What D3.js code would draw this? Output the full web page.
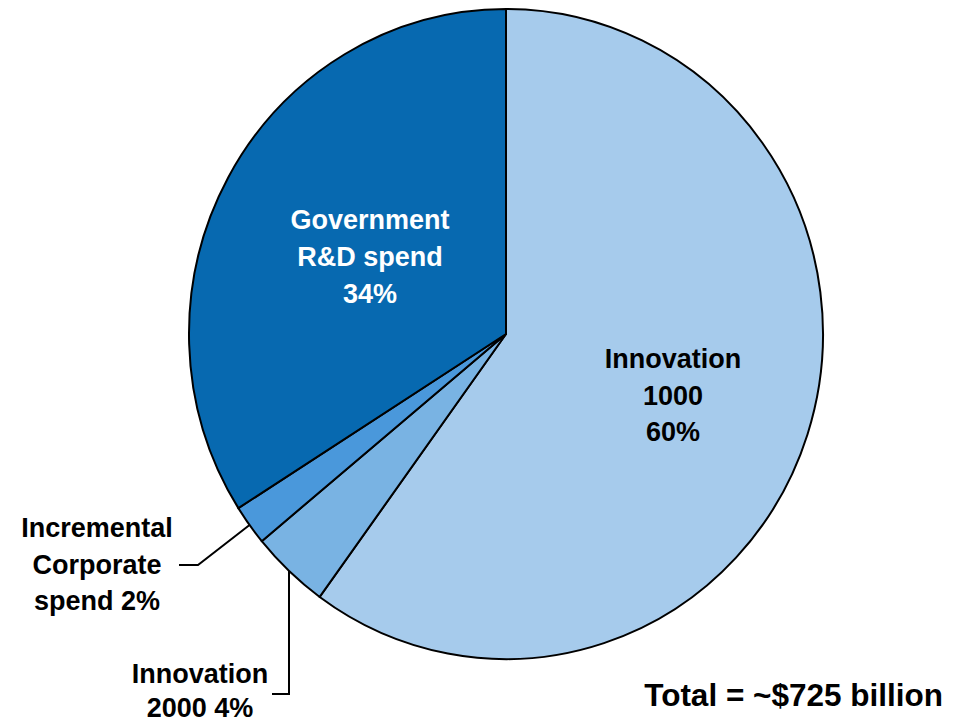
<!DOCTYPE html>
<html>
<head>
<meta charset="utf-8">
<script src="https://cdn.jsdelivr.net/npm/d3@7"></script>
<style>
  html, body { margin: 0; padding: 0; background: #fff; }
  svg { display: block; }
  text { font-family: "Liberation Sans", Arial, sans-serif; font-weight: bold; }
</style>
</head>
<body>
<svg id="chart" width="963" height="723"></svg>
<script>
// Slices in drawing order, clockwise from 12 o'clock
const categories = ["Innovation 1000", "Innovation 2000", "Incremental Corporate spend", "Government R&D spend"];
const shares = [60, 4, 2, 34];
const colors = ["#A6CBEC", "#79B3E3", "#4A98DB", "#0769B0"];
const labelLines = [
  ["Innovation", "1000", "60%"],
  ["Innovation", "2000 4%"],
  ["Incremental", "Corporate", "spend 2%"],
  ["Government", "R&D spend", "34%"]
];
const totalLabel = "Total = ~$725 billion";

const svg = d3.select("#chart");
const cx = 506, cy = 334, rx = 317, ry = 325;

const pie = d3.pie().sort(null).value(d => d)(shares);
const arc = d3.arc().innerRadius(0).outerRadius(rx);

// Slight vertical stretch of the pie
const pieG = svg.append("g")
  .attr("transform", `translate(${cx},${cy}) scale(1,${ry / rx})`);

pieG.selectAll("path")
  .data(pie)
  .join("path")
  .attr("d", arc)
  .attr("fill", (d, i) => colors[i])
  .attr("stroke", "#000")
  .attr("stroke-width", 2)
  .attr("stroke-linejoin", "round")
  .attr("vector-effect", "non-scaling-stroke");

// Point on the outer edge at the middle of a slice, in page coordinates
function edgePoint(d) {
  const a = (d.startAngle + d.endAngle) / 2;
  return [cx + rx * Math.sin(a), cy - ry * Math.cos(a)];
}

function drawLines(lines, x, y0, step, fill) {
  const t = svg.append("text")
    .attr("text-anchor", "middle")
    .attr("font-size", 27)
    .attr("fill", fill);
  lines.forEach((s, k) => {
    t.append("tspan").attr("x", x).attr("y", y0 + k * step).text(s);
  });
}

// Labels inside the big slices
drawLines(labelLines[0], 673, 368, 36.5, "#000");
drawLines(labelLines[3], 370, 229, 37, "#fff");

// Outside labels with leader lines
const line = d3.line();
const pIncr = edgePoint(pie[2]);
svg.append("path")
  .attr("d", line([pIncr, [198, 565], [179, 565]]))
  .attr("fill", "none").attr("stroke", "#000").attr("stroke-width", 2);
drawLines(labelLines[2], 97, 537, 36.5, "#000");

const pInno2 = edgePoint(pie[1]);
svg.append("path")
  .attr("d", line([pInno2, [pInno2[0], 694], [272, 694]]))
  .attr("fill", "none").attr("stroke", "#000").attr("stroke-width", 2);
drawLines(labelLines[1], 200, 683, 34, "#000");

svg.append("text")
  .attr("x", 943).attr("y", 706)
  .attr("text-anchor", "end")
  .attr("font-size", 31.5)
  .attr("fill", "#000")
  .text(totalLabel);
</script>
</body>
</html>
